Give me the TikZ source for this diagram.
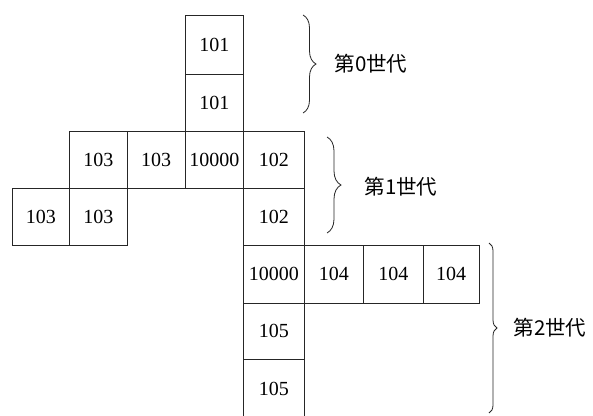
\documentclass[tikz,border=0pt]{standalone}
\usepackage{fontspec}
\setmainfont{Liberation Serif}
\newfontfamily\jpfont{Noto Sans CJK JP}
\usetikzlibrary{decorations.pathreplacing}
\tikzset{
  cell/.style={draw=black!85, line width=0.8pt, inner sep=0pt, outer sep=0pt,
    font=\fontsize{20}{20}\selectfont},
  gen/.style={font=\jpfont\fontsize{20.5}{20.5}\selectfont, inner sep=0pt},
  brc/.style={draw=black!85, line width=0.8pt, decorate},
}
\newcommand\mycell[6]{%
  \node[cell, minimum width={(#4-#2)*1pt}, minimum height={(#5-#3)*1pt}]
    (#1) at ({(#2+#4)/2},{(#3+#5)/2}) {#6};}
\begin{document}
\begin{tikzpicture}[x=1pt,y=-1pt]
\useasboundingbox (0,0) rectangle (593,415);
\clip (0,0) rectangle (593,415);
\fill[white] (0,0) rectangle (593,415);
% generation 0
\mycell{a1}{185}{15}{243.5}{74}{101}
\mycell{a2}{185}{74}{243.5}{131}{101}
% generation 1 row
\mycell{b1}{69.5}{131}{127}{188}{103}
\mycell{b2}{127}{131}{185}{188}{103}
\mycell{b3}{185}{131}{243.5}{188}{10000}
\mycell{b4}{243.5}{131}{304}{188}{102}
\mycell{c1}{12}{188}{69.5}{245}{103}
\mycell{c2}{69.5}{188}{127}{245}{103}
\mycell{c3}{243.5}{188}{304}{245}{102}
% generation 2
\mycell{d1}{243.5}{245}{304}{303}{10000}
\mycell{d2}{304}{245}{363.5}{303}{104}
\mycell{d3}{363.5}{245}{423}{303}{104}
\mycell{d4}{423}{245}{479}{303}{104}
\mycell{e1}{243.5}{303}{304}{359.5}{105}
\mycell{e2}{243.5}{359.5}{304}{418}{105}
% braces
\coordinate (g0a) at (303,15);  \coordinate (g0b) at (303,113);
\coordinate (g1a) at (327,137); \coordinate (g1b) at (327,233);
\coordinate (g2a) at (489,243); \coordinate (g2b) at (489,413);
\draw[brc, decoration={brace, amplitude=13pt}] (g0a) -- (g0b);
\draw[brc, decoration={brace, amplitude=14pt}] (g1a) -- (g1b);
\draw[brc, decoration={brace, amplitude=8pt}] (g2a) -- (g2b);
\node[gen] (l0) at (371,64) {第0世代};
\node[gen] (l1) at (401,187) {第1世代};
\node[gen] (l2) at (550,328) {第2世代};
\end{tikzpicture}
\end{document}
